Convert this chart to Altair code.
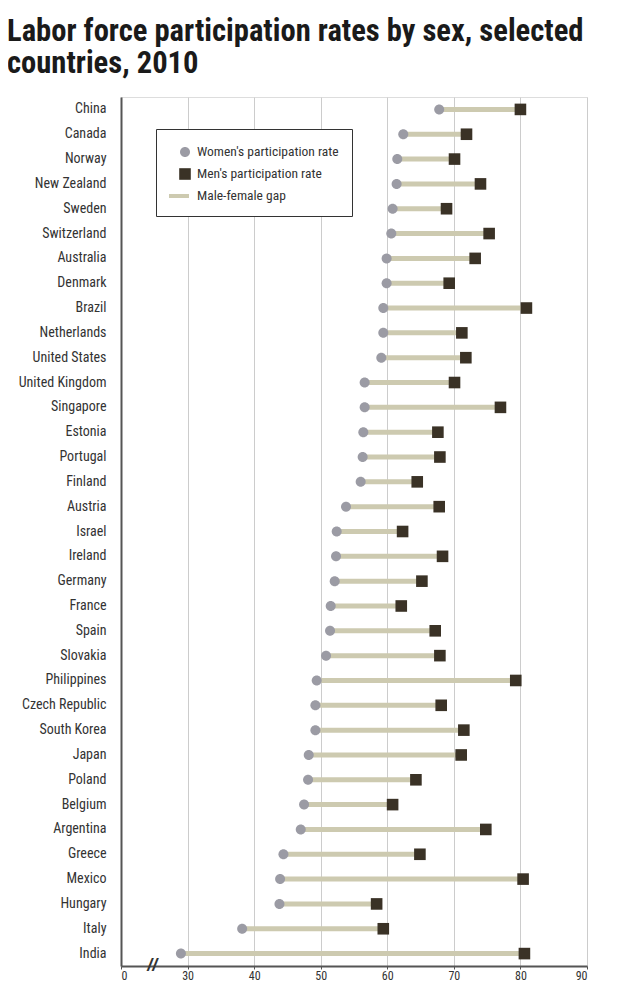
import altair as alt
import pandas as pd

countries = ["China", "Canada", "Norway", "New Zealand", "Sweden", "Switzerland",
             "Australia", "Denmark", "Brazil", "Netherlands", "United States",
             "United Kingdom", "Singapore", "Estonia", "Portugal", "Finland",
             "Austria", "Israel", "Ireland", "Germany", "France", "Spain",
             "Slovakia", "Philippines", "Czech Republic", "South Korea", "Japan",
             "Poland", "Belgium", "Argentina", "Greece", "Mexico", "Hungary",
             "Italy", "India"]

women = [67.8, 62.4, 61.5, 61.4, 60.8, 60.6, 59.9, 59.9, 59.4, 59.4, 59.1,
         56.6, 56.6, 56.4, 56.3, 56.0, 53.8, 52.4, 52.3, 52.1, 51.5, 51.4,
         50.8, 49.4, 49.2, 49.2, 48.2, 48.1, 47.5, 47.0, 44.4, 43.9, 43.8,
         38.2, 29.0]

men = [80.0, 71.9, 70.1, 74.0, 68.9, 75.3, 73.2, 69.3, 80.9, 71.2, 71.8,
       70.1, 77.0, 67.6, 67.9, 64.5, 67.8, 62.3, 68.3, 65.2, 62.1, 67.2,
       67.9, 79.3, 68.1, 71.5, 71.1, 64.3, 60.8, 74.8, 64.9, 80.4, 58.4,
       59.4, 80.6]

series_names = ["Women's participation rate", "Men's participation rate", "Male-female gap"]
series_colors = ["#9b9ba4", "#3a3226", "#cdcab0"]
series_shapes = [
    "M0,-0.5A0.5,0.5 0 1,1 0,0.5A0.5,0.5 0 1,1 0,-0.5Z",
    "M-0.58,-0.58H0.58V0.58H-0.58Z",
    "M-1.6,-0.2H0.4V0.2H-1.6Z",
]
x_ticks = [20, 30, 40, 50, 60, 70, 80, 90]
break_at = [24.7]

FONT = "Roboto Condensed, DejaVu Sans Condensed, sans-serif"

wide = pd.DataFrame({"country": countries, "women": women, "men": men})
long = pd.concat([
    pd.DataFrame({"country": countries, "series": series_names[0], "value": women}),
    pd.DataFrame({"country": countries, "series": series_names[1], "value": men}),
])
brk = pd.DataFrame({"b": break_at})

x_scale = alt.Scale(domain=[20, 90], nice=False, zero=False)
x_axis = alt.Axis(title=None, values=x_ticks,
                  labelExpr="datum.value == 20 ? '0' : datum.label",
                  grid=True, gridColor="#cccccc", gridWidth=1,
                  tickSize=3, tickColor="#555555", domainColor="#555555",
                  domainWidth=2, labelFontSize=12, labelFont=FONT,
                  labelColor="#333333", labelPadding=1)
y_enc = alt.Y("country:N", sort=countries, title=None,
              axis=alt.Axis(ticks=False, labelPadding=15, domainColor="#555555",
                            domainWidth=2, labelFontSize=14, labelFont=FONT,
                            labelColor="#333333", grid=False, labelLimit=200))

legend = alt.Legend(title=None, orient="none", legendX=35, legendY=32,
                    strokeColor="#333333", padding=13,
                    symbolSize=400, symbolStrokeWidth=0, symbolOffset=6,
                    labelFont=FONT, labelFontSize=13.5, labelColor="#333333",
                    labelOffset=2, rowPadding=5, fillColor="#ffffff",
                    labelLimit=300)

gap = alt.Chart(wide).mark_rule(color="#cdcab0", strokeWidth=5).encode(
    x=alt.X("women:Q", scale=x_scale, axis=x_axis),
    x2="men:Q",
    y=y_enc,
)

pts = alt.Chart(long).mark_point(filled=True, size=400, opacity=1).encode(
    x=alt.X("value:Q", scale=x_scale, axis=x_axis),
    y=y_enc,
    color=alt.Color("series:N", scale=alt.Scale(domain=series_names, range=series_colors),
                    legend=legend),
    shape=alt.Shape("series:N", scale=alt.Scale(domain=series_names, range=series_shapes),
                    legend=legend),
)

brk_mark = alt.Chart(brk).mark_text(text="//", fontSize=18, fontWeight="bold",
                                    fontStyle="italic", color="#333333",
                                    baseline="middle", align="center",
                                    font="Liberation Sans").encode(
    x=alt.X("b:Q", scale=x_scale, axis=x_axis),
    y=alt.value(869),
)

chart = alt.layer(gap, pts, brk_mark).properties(
    width=466, height=869,
    padding={"left": 113, "top": 89, "right": 45, "bottom": 25},
    autosize="none",
    title=alt.TitleParams(
        text=["Labor force participation rates by sex, selected", "countries, 2010"],
        font=FONT, fontSize=30.6, fontWeight="bold", color="#1a1a1a",
        anchor="start", frame="group", dx=-114, offset=17, lineHeight=32),
).configure_view(stroke=None).configure(background="#ffffff")

chart.save("out.html", embed_options={"renderer": "svg", "actions": False})
